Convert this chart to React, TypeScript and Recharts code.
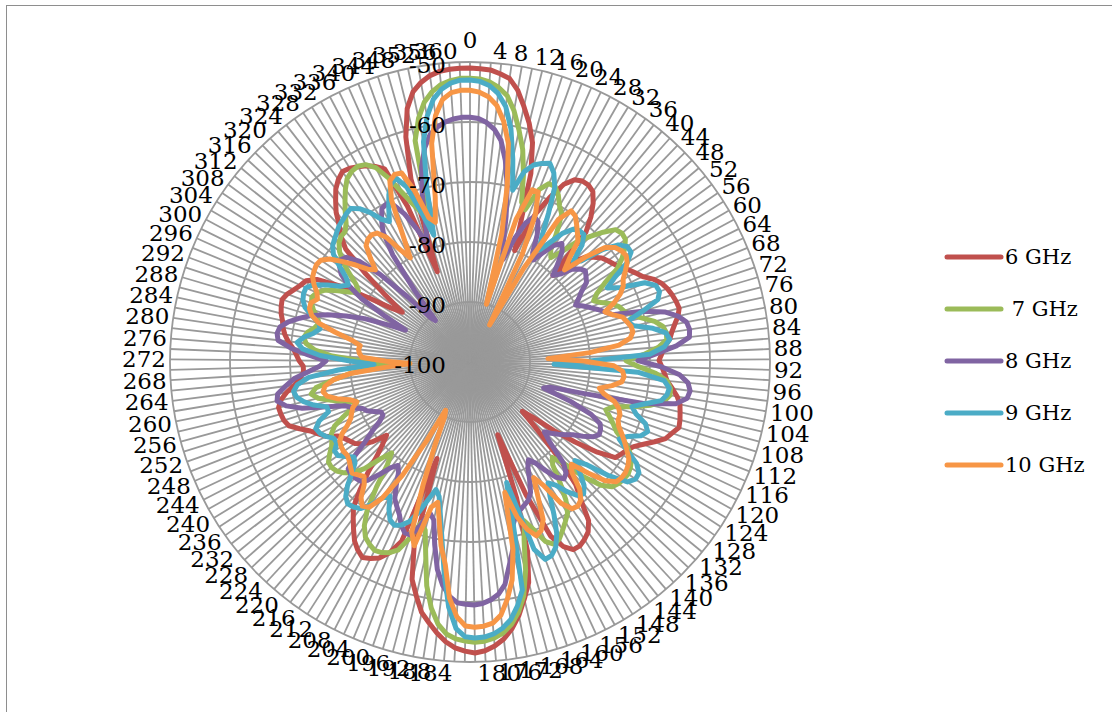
import React from 'react';
import { RadarChart, Radar, PolarGrid, PolarAngleAxis, PolarRadiusAxis, Legend } from 'recharts';

const angles = [
  0, 2, 4, 6, 8, 10, 12, 14, 16, 18, 20, 22, 24, 26, 28, 30, 32, 34, 36, 38,
  40, 42, 44, 46, 48, 50, 52, 54, 56, 58, 60, 62, 64, 66, 68, 70, 72, 74, 76, 78,
  80, 82, 84, 86, 88, 90, 92, 94, 96, 98, 100, 102, 104, 106, 108, 110, 112, 114, 116, 118,
  120, 122, 124, 126, 128, 130, 132, 134, 136, 138, 140, 142, 144, 146, 148, 150, 152, 154, 156, 158,
  160, 162, 164, 166, 168, 170, 172, 174, 176, 178, 180, 182, 184, 186, 188, 190, 192, 194, 196, 198,
  200, 202, 204, 206, 208, 210, 212, 214, 216, 218, 220, 222, 224, 226, 228, 230, 232, 234, 236, 238,
  240, 242, 244, 246, 248, 250, 252, 254, 256, 258, 260, 262, 264, 266, 268, 270, 272, 274, 276, 278,
  280, 282, 284, 286, 288, 290, 292, 294, 296, 298, 300, 302, 304, 306, 308, 310, 312, 314, 316, 318,
  320, 322, 324, 326, 328, 330, 332, 334, 336, 338, 340, 342, 344, 346, 348, 350, 352, 354, 356, 358,
  360,
];

const ghz6 = [
  -51, -51.1, -51.2, -51.7, -52.3, -54, -56.5, -59, -62, -67, -75, -80, -73, -69.5, -66.5, -65, -64.5, -64.5, -65, -66.5,
  -68.5, -71, -80, -76, -74, -73, -72, -71.5, -71, -70.5, -69.5, -68.7, -67.9, -66.5, -65.5, -64.9, -64.5, -64.2, -64, -64.5,
  -65.3, -66, -66.5, -67.5, -68, -68.5, -68, -67.5, -67, -66, -65, -64.3, -64, -63.7, -63.5, -64.3, -65, -66.5, -68, -69.3,
  -70, -70.5, -71, -74, -78, -82, -86, -88, -84, -78, -73, -70.5, -67, -65.5, -64.8, -64.3, -64.3, -65.5, -68, -76,
  -87, -76, -67, -62, -59.5, -57, -55, -53.5, -52.5, -51.8, -51.5, -51.8, -52.3, -53.2, -54.5, -56, -57.5, -60, -62.5, -68,
  -83, -68, -65.5, -64, -63.3, -62.8, -63.5, -64.5, -66, -67.5, -69, -72, -75, -78, -80, -81.5, -79, -77.5, -76.5, -76,
  -75.5, -74.8, -73, -72, -71, -69.5, -68, -67.5, -67.3, -67.2, -67.8, -69, -70.5, -71.5, -72.2, -72.2, -71.5, -71, -70.4, -69.5,
  -68.8, -68.3, -68, -67.5, -67.2, -67, -67.5, -68.3, -69, -69.5, -71, -75, -80, -84, -86, -82, -77, -72, -70, -68.5,
  -66.5, -65, -63.5, -62.5, -61.8, -62, -62.5, -63, -63.8, -64.8, -72, -84, -68, -61, -56.5, -54, -52.7, -51.8, -51.3, -51.1,
  -51,
];

const ghz7 = [
  -52.7, -52.8, -53.2, -54, -55.2, -57.5, -60.5, -63.5, -67.5, -72, -73, -69, -67.5, -67.5, -68.5, -70, -71, -74, -77, -78,
  -76, -73, -71, -69, -67.2, -66.8, -67, -68, -69.3, -71, -74, -76, -77, -76, -74.5, -73.5, -73, -72, -70.5, -68.5,
  -67.3, -66.9, -67, -68.5, -71, -74, -72, -69, -67, -66.3, -66.2, -67, -69, -72, -75, -76, -75, -74, -73, -71,
  -69.5, -68.5, -68, -67.7, -67.8, -68, -68.5, -70, -73, -77, -79, -78, -75, -72, -70, -69, -68, -67, -66.5, -67.5,
  -70, -72, -69, -64, -60, -57.5, -55.7, -54.5, -53.8, -53.4, -53.3, -53.5, -53.8, -54.5, -56, -58.5, -62, -67, -71, -72,
  -69, -66.5, -65.5, -65, -64.8, -65.3, -66, -67.5, -70, -74, -78, -80, -78, -75, -73, -72, -71.3, -71, -71.1, -72,
  -73, -73.6, -74, -75, -77, -79, -80, -78, -76, -74, -73, -74, -77, -80, -84, -86, -82, -77, -74, -72.5,
  -72, -72.5, -73.5, -74, -73.5, -72.5, -71.8, -71.5, -72, -73, -75, -77, -78, -77, -75, -73, -71.5, -70.5, -70, -69.9,
  -69, -67.5, -66, -64.5, -63.2, -62.6, -62.4, -62.8, -64, -66.5, -69.5, -72, -74, -75, -62, -58.5, -56, -54.5, -53.5, -53,
  -52.7,
];

const ghz8 = [
  -59.2, -59.4, -60, -61, -62.7, -65.9, -70, -75, -80, -82, -78, -75, -73.5, -74, -76, -79, -80, -78, -76, -75,
  -76, -78, -80, -79, -77, -76, -75.5, -76, -76.5, -78, -79, -80, -79, -78, -77, -76, -75, -70, -66.5, -64.5,
  -63.3, -63, -63.2, -65.5, -69, -72, -68, -65, -63.5, -63, -63.3, -65, -70, -80, -86, -87, -82, -78, -76, -75.5,
  -75.3, -76, -77.5, -79, -80, -81, -82, -83, -81, -77, -75.5, -75, -76, -78, -80, -81, -80, -78, -76, -75,
  -74.5, -74, -73.5, -72, -68, -65.5, -62.5, -61, -60.2, -59.7, -59.5, -59.6, -59.8, -60.8, -62.5, -65, -69, -73, -74, -71.5,
  -69.5, -69.5, -70.5, -72, -73, -74, -76, -78, -79, -78, -76, -74, -73, -72.8, -72.7, -73, -75, -78, -80, -82,
  -83, -83, -82, -81, -80.5, -79, -78, -75, -71, -68.5, -67.2, -67.5, -69, -70.5, -73, -75, -76, -73, -70, -67.8,
  -67.5, -67.8, -69, -70.7, -72.5, -75, -78, -81, -85, -88, -84, -79, -76, -74, -73, -72.5, -73, -75, -79, -85,
  -90, -91, -85, -78, -74, -72, -70.5, -70.2, -71, -73, -76, -79, -76, -71, -66.5, -63.5, -61.5, -60.5, -59.8, -59.4,
  -59.2,
];

const ghz9 = [
  -53, -53.2, -53.8, -55, -57, -60.5, -65.5, -70.5, -67, -65.5, -64.8, -64.3, -65.5, -67.6, -72, -76, -78, -76, -73.5, -72,
  -71.5, -71.5, -73, -76, -75, -71, -68.5, -67.5, -67.5, -69, -72, -74, -72, -68, -66.5, -66.3, -67, -70, -73, -72,
  -69, -67, -66.5, -67.5, -70, -80, -86, -72, -67.5, -66.5, -66.7, -67.5, -70, -72, -71, -69, -68.2, -69, -71, -72,
  -70, -67.5, -66.3, -66.2, -67, -70, -74, -76, -74, -72, -71, -71.5, -73, -75, -76, -74, -71, -68, -66, -65,
  -64.8, -67, -79, -72, -61, -58.5, -56.5, -55.3, -54.5, -54.1, -54, -54.2, -55.5, -59, -64.5, -70, -74, -77, -78, -76,
  -73.5, -71.5, -70.5, -70, -70.5, -72, -74, -73, -71, -69.5, -69, -68.8, -69.5, -71, -73, -74.5, -75, -74, -73, -73,
  -74, -74, -73, -72.3, -72, -73, -75, -75, -73, -71.5, -70.5, -70.2, -71, -73, -78, -84, -80, -75, -72, -71,
  -72, -73.5, -74.4, -74, -72.5, -71, -70.3, -70, -70, -71, -73, -75, -76, -75, -73, -71, -70, -69.5, -69, -68.5,
  -68.2, -67.8, -67.6, -68.5, -70, -72, -73, -71, -69, -67.5, -67, -69, -74, -78, -70, -62.5, -58.5, -55.8, -54.3, -53.4,
  -53,
];

const ghz10 = [
  -54.7, -55, -55.7, -57, -59.5, -63, -70, -78, -90, -75, -69.5, -69.5, -73, -80, -93, -82, -72, -69.7, -70, -71,
  -72, -73, -76, -78, -74, -70.5, -69.2, -68.7, -68.5, -69, -70, -71, -71.5, -72.5, -74, -76, -75, -73.5, -73, -72.5,
  -72.4, -73, -75, -80, -87, -81, -76, -74.5, -74.2, -74.5, -76, -78, -77, -75, -74, -73.5, -73.5, -73, -72, -71,
  -70, -69, -68.5, -68.2, -68.2, -68.5, -70, -73, -76, -75, -72, -70.5, -70, -70.2, -72, -76, -78, -75, -71, -69.5,
  -69, -70.5, -73, -77.5, -68, -63, -60, -57.5, -56.3, -55.9, -55.8, -56, -57.5, -60.5, -66, -69, -73, -76, -75, -68,
  -70, -78, -85, -90, -91, -85, -78, -73, -70.5, -70, -71, -73, -74, -73.5, -73, -73.5, -74, -74.3, -74.2, -74.3,
  -74.6, -75.5, -77, -78, -78.5, -79, -80, -79, -77, -75.5, -75, -75.5, -77, -80, -86, -90, -86, -82, -81.5, -81.3,
  -81.5, -80, -77, -74, -72.5, -71.8, -71.7, -72.5, -72, -71, -70.2, -69.9, -69.7, -69.9, -71, -73, -75, -77, -78, -76,
  -74, -73.4, -73.2, -73.5, -75, -78, -80, -76, -70, -67, -66.3, -66.5, -70, -75, -76, -72, -63, -58.5, -56, -55,
  -54.7,
];

const radiusTicks = [-100, -90, -80, -70, -60, -50];

const seriesInfo = [
  { key: 'g6', name: '6 GHz', color: '#C0504D' },
  { key: 'g7', name: ' 7 GHz', color: '#9BBB59' },
  { key: 'g8', name: '8 GHz', color: '#8064A2' },
  { key: 'g9', name: '9 GHz', color: '#4BACC6' },
  { key: 'g10', name: '10 GHz', color: '#F79646' },
];

const data = angles.map((a, i) => ({
  angle: a,
  g6: ghz6[i],
  g7: ghz7[i],
  g8: ghz8[i],
  g9: ghz9[i],
  g10: ghz10[i],
}));

const FONT = '"DejaVu Serif", serif';
const CX = 470;
const CY = 362;
const R = 300;

const AngleTick = (props: any) => {
  const { x, y, payload } = props;
  const v = Number(payload && payload.value);
  if (!(v % 4 === 0)) return null;
  const dx = x - CX;
  const dy = y - CY;
  const len = Math.hypot(dx, dy) || 1;
  const s = dx / len;
  const c = -dy / len;
  let anchor: 'start' | 'end' | 'middle' = 'middle';
  if (s > 0.001) anchor = 'start';
  else if (s < -0.001) anchor = 'end';
  const tx = x + (anchor === 'start' ? 2 : anchor === 'end' ? -2 : 0);
  const ty = anchor === 'middle' && c > 0 ? y - 20 : y - c * 9.5;
  return (
    <text x={tx} y={ty} textAnchor={anchor} dominantBaseline="central" fontFamily={FONT} fontSize={23} fill="#000">
      {v}
    </text>
  );
};

const RadiusTick = (props: any) => {
  const { payload } = props;
  const r = ((Number(payload.value) + 100) / 50) * R;
  return (
    <text x={CX - 24} y={CY - r + 3} textAnchor="end" dominantBaseline="central" fontFamily={FONT} fontSize={23} fill="#000">
      {payload.value}
    </text>
  );
};

const LegendContent = () => (
  <div style={{ fontFamily: FONT, fontSize: 21, color: '#000' }}>
    {seriesInfo.map((s) => (
      <div key={s.key} style={{ display: 'flex', alignItems: 'center', height: 52 }}>
        <svg width={62} height={10} style={{ flex: 'none' }}>
          <line x1={4} y1={5} x2={58} y2={5} stroke={s.color} strokeWidth={5} strokeLinecap="round" />
        </svg>
        <span style={{ whiteSpace: 'pre' }}>{s.name}</span>
      </div>
    ))}
  </div>
);

export default function App() {
  return (
    <div style={{ position: 'absolute', left: 0, top: 0, width: 1112, height: 712, overflow: 'hidden', background: '#fff' }}>
      <div style={{ position: 'absolute', left: 6, top: 5, width: 1200, height: 800, border: '1px solid #8e8e8e' }} />
      <div style={{ position: 'absolute', left: 0, top: 0 }}>
        <RadarChart
          width={1112}
          height={712}
          data={data}
          cx={CX}
          cy={CY}
          outerRadius={R}
          startAngle={90}
          endAngle={-270}
          margin={{ top: 0, right: 0, bottom: 0, left: 0 }}
        >
          <PolarGrid gridType="circle" stroke="#999999" strokeWidth={1.8} />
          <PolarAngleAxis dataKey="angle" tick={AngleTick} tickLine={false} axisLine={false} tickSize={2} />
          <PolarRadiusAxis
            angle={90}
            domain={[-100, -50]}
            ticks={radiusTicks}
            tickCount={6}
            tick={RadiusTick}
            axisLine={false}
            tickLine={false}
            allowDataOverflow
          />
          {seriesInfo.map((s) => (
            <Radar
              key={s.key}
              name={s.name}
              dataKey={s.key}
              stroke={s.color}
              strokeWidth={5}
              strokeLinejoin="round"
              fill="none"
              fillOpacity={0}
              dot={false}
              isAnimationActive={false}
            />
          ))}
          <Legend
            layout="vertical"
            align="right"
            verticalAlign="top"
            content={LegendContent}
            wrapperStyle={{ position: 'absolute', left: 943, top: 231, width: 170 }}
          />
        </RadarChart>
      </div>
    </div>
  );
}
